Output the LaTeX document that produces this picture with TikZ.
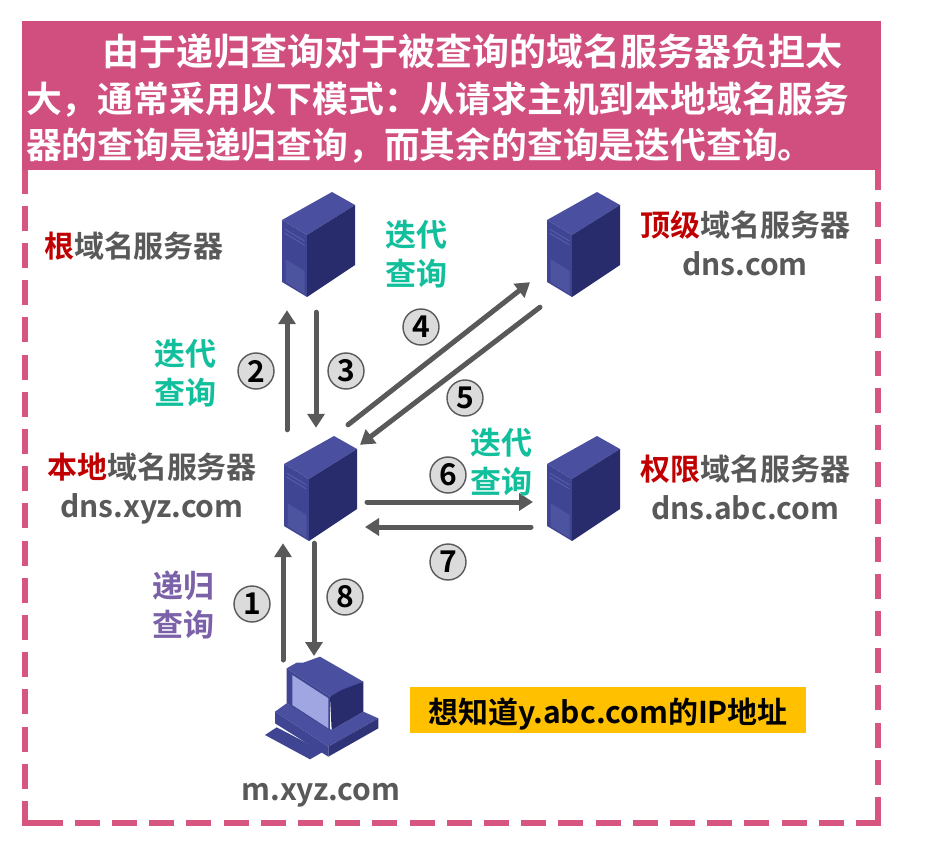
\documentclass[tikz,border=0pt]{standalone}
\usepackage{fontspec}
\setmainfont{Noto Sans CJK SC}[BoldFont={Noto Sans CJK SC Bold}]
\usetikzlibrary{arrows.meta}
\definecolor{pinkhd}{HTML}{D14F7F}
\definecolor{pinkln}{HTML}{D6567F}
\definecolor{grayt}{HTML}{595959}
\definecolor{redt}{HTML}{C00000}
\definecolor{greent}{HTML}{12BF9C}
\definecolor{purplet}{HTML}{7B62A8}
\definecolor{srvtop}{HTML}{4A509F}
\definecolor{srvfront}{HTML}{3F4592}
\definecolor{srvside}{HTML}{282B6C}
\definecolor{srvline}{HTML}{6B72BE}
\definecolor{scr}{HTML}{9FA6E2}
\definecolor{noteyel}{HTML}{FFC000}
\tikzset{
  x=1pt,y=-1pt,
  header/.style={fill=pinkhd,draw=none},
  frameline/.style={draw=pinkln,line width=6pt},
  framedash/.style={frameline,dash pattern=on 25pt off 12.2pt},
  arr/.style={draw=grayt,line width=5pt,line cap=round,-{Triangle[length=14pt,width=17pt]}},
  lab/.style={font=\fontsize{30}{39}\selectfont\bfseries,text=grayt,align=center,inner sep=0pt},
  qlab/.style={font=\fontsize{31}{39.5}\selectfont\bfseries,align=center,inner sep=0pt},
  num/.style={circle,draw=grayt,line width=1.4pt,fill=black!14,minimum size=36pt,inner sep=0pt,
    font=\fontsize{30}{30}\selectfont\bfseries,text=black},
  srv/.style={minimum width=73pt,minimum height=106pt,inner sep=0pt,draw=none},
  pcbox/.style={minimum width=113pt,minimum height=103pt,inner sep=0pt,draw=none},
  server/.pic={
    \fill[srvtop] (-36.5,-24)--(13.5,-52)--(36.5,-39)--(-11.5,-9)--cycle;
    \fill[srvfront] (-36.5,-24)--(-11.5,-9)--(-11.5,53)--(-36.5,38)--cycle;
    \fill[srvside] (-11.5,-9)--(36.5,-39)--(36.5,21)--(-11.5,53)--cycle;
    \draw[srvline!60!srvfront,line width=.8pt] (-34,-15)--(-14,-3);
    \draw[srvline!60!srvfront,line width=.8pt] (-34,-11)--(-14,1);
    \fill[srvline!30!srvfront] (-33,15)--(-14,27)--(-14,50)--(-33,38)--cycle;
  },
  pcimg/.pic={
    \begin{scope}[shift={(-61.5,-68.5)},scale=0.3333]
      \fill[srvfront] (15,285)--(50,262)--(190,335)--(150,358)--cycle;
      \fill[srvtop] (45,215)--(80,190)--(215,270)--(310,215)--(355,235)--(205,320)--cycle;
      \fill[srvfront] (45,215)--(205,320)--(205,350)--(45,250)--cycle;
      \fill[srvside!70!srvfront] (205,320)--(355,235)--(355,265)--(205,350)--cycle;
      \fill[srvtop] (80,85)--(110,68)--(130,68)--(180,50)--(310,125)--(210,170)--cycle;
      \fill[srvfront] (80,85)--(210,170)--(210,270)--(80,190)--cycle;
      \fill[srvside] (210,170)--(245,150)--(310,125)--(310,215)--(215,270)--cycle;
      \fill[scr] (97,105)--(205,175)--(205,265)--(97,195)--cycle;
    \end{scope}
  }
}
\begin{document}
\begin{tikzpicture}
\useasboundingbox (0,0) rectangle (927,861);
\fill[white] (0,0) rectangle (927,861);
% frame
\draw[framedash] (878,822)--(878,165);
\draw[framedash] (881,823)--(40,823);
\draw[frameline] (22,823)--(40,823);
\draw[framedash] (25,826)--(25,165);
% header
\node[header,anchor=north west,minimum width=859pt,minimum height=149pt,inner sep=0pt] (hd) at (22,21) {};
\node[anchor=north west,inner sep=0pt,text=white,align=left,font=\fontsize{36}{46.5}\selectfont\bfseries] (title) at (26,34)
 {\hspace*{76pt}\fontsize{37}{46.5}\selectfont 由于递归查询对于被查询的域名服务器负担太\\\fontsize{35.8}{46.5}\selectfont 大，通常采用以下模式：从请求主机到本地域名服务\\\fontsize{35.8}{46.5}\selectfont 器的查询是递归查询，而其余的查询是迭代查询。};
% machines
\node[srv] (root) at (318.5,244) {}; \pic at (root.center) {server};
\node[srv] (top) at (583.5,244) {}; \pic at (top.center) {server};
\node[srv] (local) at (320.5,488) {}; \pic at (local.center) {server};
\node[srv] (auth) at (583.5,488) {}; \pic at (auth.center) {server};
\node[pcbox] (pc) at (321.5,708.5) {}; \pic at (pc.center) {pcimg};
% connectors
\draw[arr] ([xshift=-33.5pt,yshift=5pt]local.north) -- ([xshift=-31.5pt,yshift=-13pt]root.south);
\draw[arr] ([xshift=-2.5pt,yshift=-15pt]root.south) -- ([xshift=-4.5pt,yshift=7pt]local.north);
\draw[arr] ([xshift=27.5pt,yshift=10pt]local.north) -- ([xshift=-53.5pt,yshift=15pt]top.south);
\draw[arr] ([xshift=-43.5pt,yshift=-10pt]top.south) -- ([xshift=39.5pt,yshift=-10pt]local.north);
\draw[arr] ([xshift=46.5pt,yshift=-14pt]local.center) -- ([xshift=-50.5pt,yshift=-14pt]auth.center);
\draw[arr] ([xshift=-52.5pt,yshift=-39pt]auth.center) -- ([xshift=44.5pt,yshift=-39pt]local.center);
\draw[arr] ([xshift=-38.5pt,yshift=48.5pt]pc.center) -- ([xshift=-37.5pt,yshift=-2pt]local.south);
\draw[arr] ([xshift=-6.5pt,yshift=-2pt]local.south) -- ([xshift=-7.5pt,yshift=52.5pt]pc.center);
% labels
\node[lab] (lroot) at (134,246) {\textcolor{redt}{根}域名服务器};
\node[lab] (ltop) at (745,243.5) {\textcolor{redt}{顶级}域名服务器\\dns.com};
\node[lab] (llocal) at (152,489) {\textcolor{redt}{本地}域名服务器\\dns.xyz.com};
\node[lab] (lauth) at (745,487.5) {\textcolor{redt}{权限}域名服务器\\dns.abc.com};
\node[lab] (lpc) at (321,795) {m.xyz.com};
\node[qlab,text=greent] (q1) at (416,254) {迭代\\查询};
\node[qlab,text=greent] (q2) at (185,373) {迭代\\查询};
\node[qlab,text=greent] (q3) at (501,462) {迭代\\查询};
\node[qlab,text=purplet] (q4) at (183,605) {递归\\查询};
% numbers
\node[num] (n2) at (256,371) {2};
\node[num] (n3) at (346,371) {3};
\node[num] (n4) at (421,327) {4};
\node[num] (n5) at (465,398) {5};
\node[num] (n6) at (448,475) {6};
\node[num] (n7) at (448,562) {7};
\node[num] (n1) at (252,604) {1};
\node[num] (n8) at (345,597) {8};
% note
\node[fill=noteyel,minimum width=396pt,minimum height=46pt,inner sep=0pt,text=black,text height=26pt,text depth=0pt,
  font=\fontsize{30}{30}\selectfont\bfseries] (note) at (608,710) {想知道y.abc.com的IP地址};
\end{tikzpicture}
\end{document}
